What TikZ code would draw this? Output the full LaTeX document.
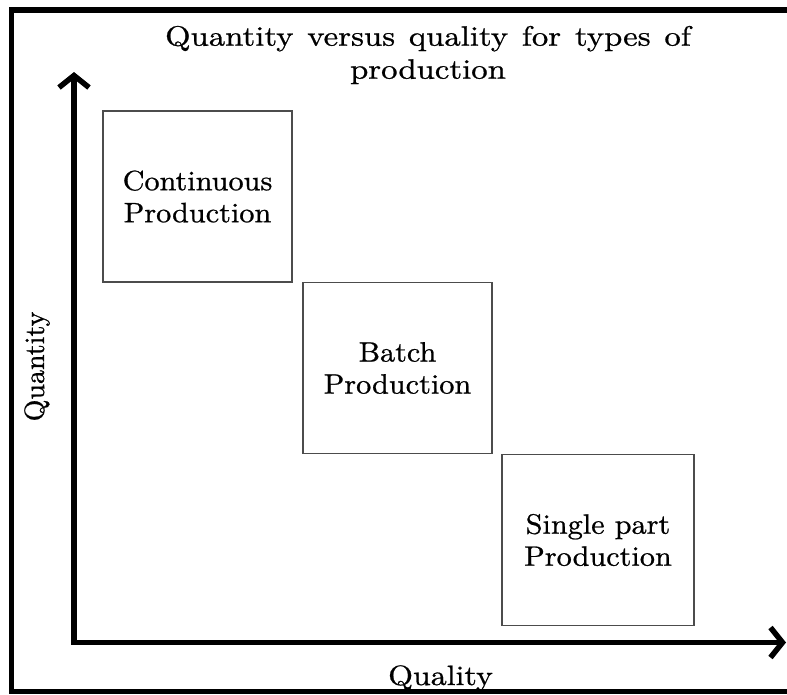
\documentclass[tikz,border=0pt]{standalone}
\usetikzlibrary{arrows.meta}
\font\boxfont="[lmroman10-regular]:mapping=tex-text;extend=1.08;embolden=0.8" at 28pt
\font\titlefont="[lmroman10-regular]:mapping=tex-text;extend=1.17;embolden=0.8" at 28pt
\font\qualfont="[lmroman10-regular]:mapping=tex-text;extend=1.14;embolden=0.8" at 28pt
\font\quantfont="[lmroman10-regular]:mapping=tex-text;embolden=0.8" at 28pt
\begin{document}
\begin{tikzpicture}[x=1pt,y=-1pt,
  prodbox/.style={draw=black!70, line width=1.2pt, minimum width=189pt, minimum height=171pt,
    inner sep=0pt, align=center, font={\boxfont\baselineskip=32pt}},
  axisline/.style={line width=5.5pt, line join=miter,
    {Straight Barb[length=12pt,width=30pt]}-{Straight Barb[length=12pt,width=30pt]}},
  frameline/.style={line width=5.5pt}]
\useasboundingbox (0,0) rectangle (787,694);
\clip (0,0) rectangle (787,694);
\fill[white] (0,0) rectangle (787,694);
% title
\node[font={\titlefont\baselineskip=33pt\spaceskip=13.8pt}, align=center, inner sep=0pt] (title) at (428,55)
  {Quantity versus quality for types of\\production};
% boxes
\node[prodbox] (cont) at (197.5,196.5) {Continuous\\Production};
\node[prodbox] (batch) at (397.5,368) {Batch\\Production};
\node[prodbox, minimum width=192pt] (single) at (598,540) {Single part\\Production};
% axes
\coordinate (ytip) at (74,72);
\coordinate (origin) at (74,642.5);
\coordinate (xtip) at (786,642.5);
\draw[axisline] (ytip) -- (origin) -- (xtip);
% axis labels
\node[font=\quantfont, rotate=90, anchor=base, inner sep=0pt] (qy) at (44,366.5) {Quantity};
\node[font=\qualfont, anchor=base, inner sep=0pt] (qx) at (440.5,685) {Quality};
% frame
\draw[frameline] (800,10) -- (11.5,10) -- (11.5,691.5) -- (800,691.5);
\end{tikzpicture}
\end{document}
